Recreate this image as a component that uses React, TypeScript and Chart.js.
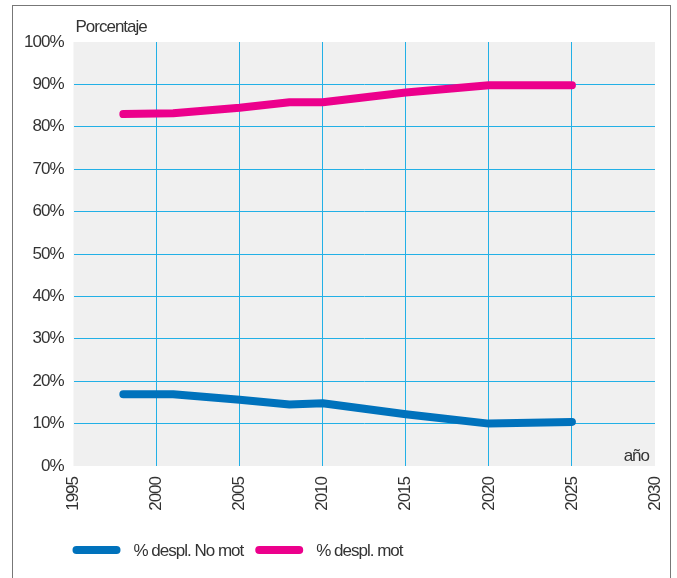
import React, { useEffect, useRef } from 'react';
import { Chart, registerables } from 'chart.js';

Chart.register(...registerables);

const years = [1998, 2001, 2005, 2008, 2010, 2015, 2020, 2025];
const noMotValues = [16.9, 16.9, 15.6, 14.5, 14.8, 12.2, 10.0, 10.4];
const motValues = [83.0, 83.2, 84.5, 85.8, 85.8, 88.1, 89.8, 89.8];
const seriesLabels = ['% despl. No mot', '% despl. mot'];
const seriesColors = ['#0072bc', '#ec008c'];
const yAxisTitle = 'Porcentaje';
const xAxisTitle = 'año';

const FONT = "'Liberation Sans', Arial, sans-serif";
const FS = 17;
const TEXT = '#333333';
const GRID = '#22b0e6';

const decor = {
  id: 'decor',
  beforeUpdate(chart: any) {
    chart.ctx.letterSpacing = '-1px';
  },
  beforeDraw(chart: any) {
    const { ctx, chartArea: a } = chart;
    ctx.letterSpacing = '-1px';
    ctx.save();
    ctx.fillStyle = '#f0f0f0';
    ctx.fillRect(a.left, a.top, a.right - a.left, a.bottom - a.top);
    ctx.restore();
  },
  afterDraw(chart: any) {
    const { ctx, chartArea: a } = chart;
    ctx.save();
    ctx.fillStyle = TEXT;
    ctx.font = `${FS}px ${FONT}`;
    ctx.textBaseline = 'alphabetic';
    ctx.textAlign = 'left';
    ctx.fillText(yAxisTitle, a.left + 2, a.top - 10);
    ctx.textAlign = 'right';
    ctx.fillText(xAxisTitle, a.right - 6, a.bottom - 5);

    // legend
    let x = a.left - 1;
    const y = 550;
    ctx.textAlign = 'left';
    ctx.textBaseline = 'middle';
    chart.data.datasets.forEach((ds: any) => {
      ctx.fillStyle = ds.borderColor;
      ctx.beginPath();
      (ctx as any).roundRect(x, y - 4, 48, 8, 4);
      ctx.fill();
      x += 48 + 13;
      ctx.fillStyle = TEXT;
      ctx.fillText(ds.label, x, y + 1);
      x += ctx.measureText(ds.label).width + 12;
    });
    ctx.restore();
  },
};

export default function App() {
  const ref = useRef<HTMLCanvasElement>(null);
  useEffect(() => {
    if (!ref.current) return;
    const chart = new Chart(ref.current, {
      type: 'line',
      data: {
        datasets: [
          {
            label: seriesLabels[0],
            data: years.map((y, i) => ({ x: y, y: noMotValues[i] })),
            borderColor: seriesColors[0],
            backgroundColor: seriesColors[0],
            borderWidth: 8,
            borderCapStyle: 'round',
            borderJoinStyle: 'round',
            pointRadius: 0,
            tension: 0,
          },
          {
            label: seriesLabels[1],
            data: years.map((y, i) => ({ x: y, y: motValues[i] })),
            borderColor: seriesColors[1],
            backgroundColor: seriesColors[1],
            borderWidth: 8,
            borderCapStyle: 'round',
            borderJoinStyle: 'round',
            pointRadius: 0,
            tension: 0,
          },
        ],
      },
      options: {
        animation: false,
        responsive: false,
        layout: { padding: { left: 13.5, top: 42, right: 22, bottom: 62 } },
        plugins: { legend: { display: false }, tooltip: { enabled: false } },
        scales: {
          x: {
            type: 'linear',
            min: 1995,
            max: 2030,
            afterFit: (s: any) => { s.height = 50; s.paddingLeft = 0; s.paddingRight = 0; },
            border: { display: false },
            grid: {
              drawTicks: false,
              lineWidth: 1,
              color: (c: any) => (c.tick && (c.tick.value === 1995 || c.tick.value === 2030)) ? 'rgba(0,0,0,0)' : GRID,
            },
            ticks: {
              stepSize: 5,
              minRotation: 90,
              maxRotation: 90,
              padding: 11,
              color: TEXT,
              font: { family: FONT, size: FS },
              callback: (v: any) => String(v),
            },
          },
          y: {
            min: 0,
            max: 100,
            afterFit: (s: any) => { s.width = 60; s.paddingTop = 0; s.paddingBottom = 0; },
            border: { display: false },
            grid: {
              drawTicks: false,
              lineWidth: 1,
              color: (c: any) => (c.tick && (c.tick.value === 0 || c.tick.value === 100)) ? 'rgba(0,0,0,0)' : GRID,
            },
            ticks: {
              stepSize: 10,
              padding: 10,
              color: TEXT,
              font: { family: FONT, size: FS },
              callback: (v: any) => v + '%',
            },
          },
        },
      },
      plugins: [decor],
    } as any);
    return () => chart.destroy();
  }, []);

  return (
    <div style={{ position: 'absolute', left: 0, top: 0, width: 677, height: 578, overflow: 'hidden', background: '#fff' }}>
      <div style={{ position: 'absolute', left: 12, top: 5, width: 659, height: 620, border: '1.5px solid #777', boxSizing: 'border-box' }} />
      <canvas ref={ref} width={677} height={578} style={{ position: 'absolute', left: 0, top: 0, width: 677, height: 578 }} />
    </div>
  );
}
